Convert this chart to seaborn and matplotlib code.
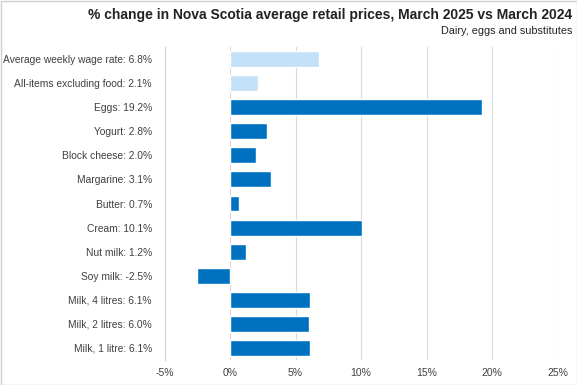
import matplotlib
matplotlib.use("Agg")
import matplotlib.pyplot as plt
import seaborn as sns
import pandas as pd
from matplotlib.patches import Rectangle

categories = ["Average weekly wage rate", "All-items excluding food", "Eggs", "Yogurt",
              "Block cheese", "Margarine", "Butter", "Cream", "Nut milk", "Soy milk",
              "Milk, 4 litres", "Milk, 2 litres", "Milk, 1 litre"]
values = [6.8, 2.1, 19.2, 2.8, 2.0, 3.1, 0.7, 10.1, 1.2, -2.5, 6.1, 6.0, 6.1]
groups = ["reference", "reference"] + ["item"] * 11
x_ticks = [-5, 0, 5, 10, 15, 20, 25]

title = "% change in Nova Scotia average retail prices, March 2025 vs March 2024"
subtitle = "Dairy, eggs and substitutes"

sns.set_theme(style="white")
plt.rcParams["font.family"] = ["Liberation Sans", "DejaVu Sans"]

labels = [f"{c}: {v:.1f}%" for c, v in zip(categories, values)]
df = pd.DataFrame({"label": labels, "value": values, "group": groups})

fig = plt.figure(figsize=(5.77, 3.85), dpi=100)
ax = fig.add_axes([164.5 / 577, 1 - 360 / 385, (557.7 - 164.5) / 577, (360 - 47) / 385])

sns.barplot(data=df, x="value", y="label", hue="group", order=labels,
            palette={"reference": "#C3E1F9", "item": "#0070C0"},
            dodge=False, width=0.66, legend=False, ax=ax, orient="h", saturation=1)

ax.set_xlim(-5, 25)
ax.set_xticks(x_ticks)
ax.set_xticklabels([f"{t}%" for t in x_ticks], fontsize=7.5, color="#404040")
ax.tick_params(axis="y", labelsize=7.4, labelcolor="#404040", length=0, pad=9)
ax.tick_params(axis="x", length=0, pad=6)
ax.set_xlabel("")
ax.set_ylabel("")
ax.grid(axis="x", color="#D9D9D9", linewidth=0.8)
ax.set_axisbelow(True)
for s in ["top", "right", "bottom"]:
    ax.spines[s].set_visible(False)
ax.spines["left"].set_color("#D0D0D0")
ax.spines["left"].set_linewidth(0.8)

fig.text(572 / 577, 1 - 15 / 385, title, ha="right", va="center",
         fontsize=10, fontweight="bold", color="#222222")
fig.text(572 / 577, 1 - 31 / 385, subtitle, ha="right", va="center",
         fontsize=7.8, color="#222222")

fig.patches.append(Rectangle((0.5 / 577, 0.5 / 385), 1 - 1 / 577, 1 - 1 / 385,
                             transform=fig.transFigure, fill=False,
                             edgecolor="#D0D0D0", linewidth=1))

fig.savefig("out.png", dpi=100)
